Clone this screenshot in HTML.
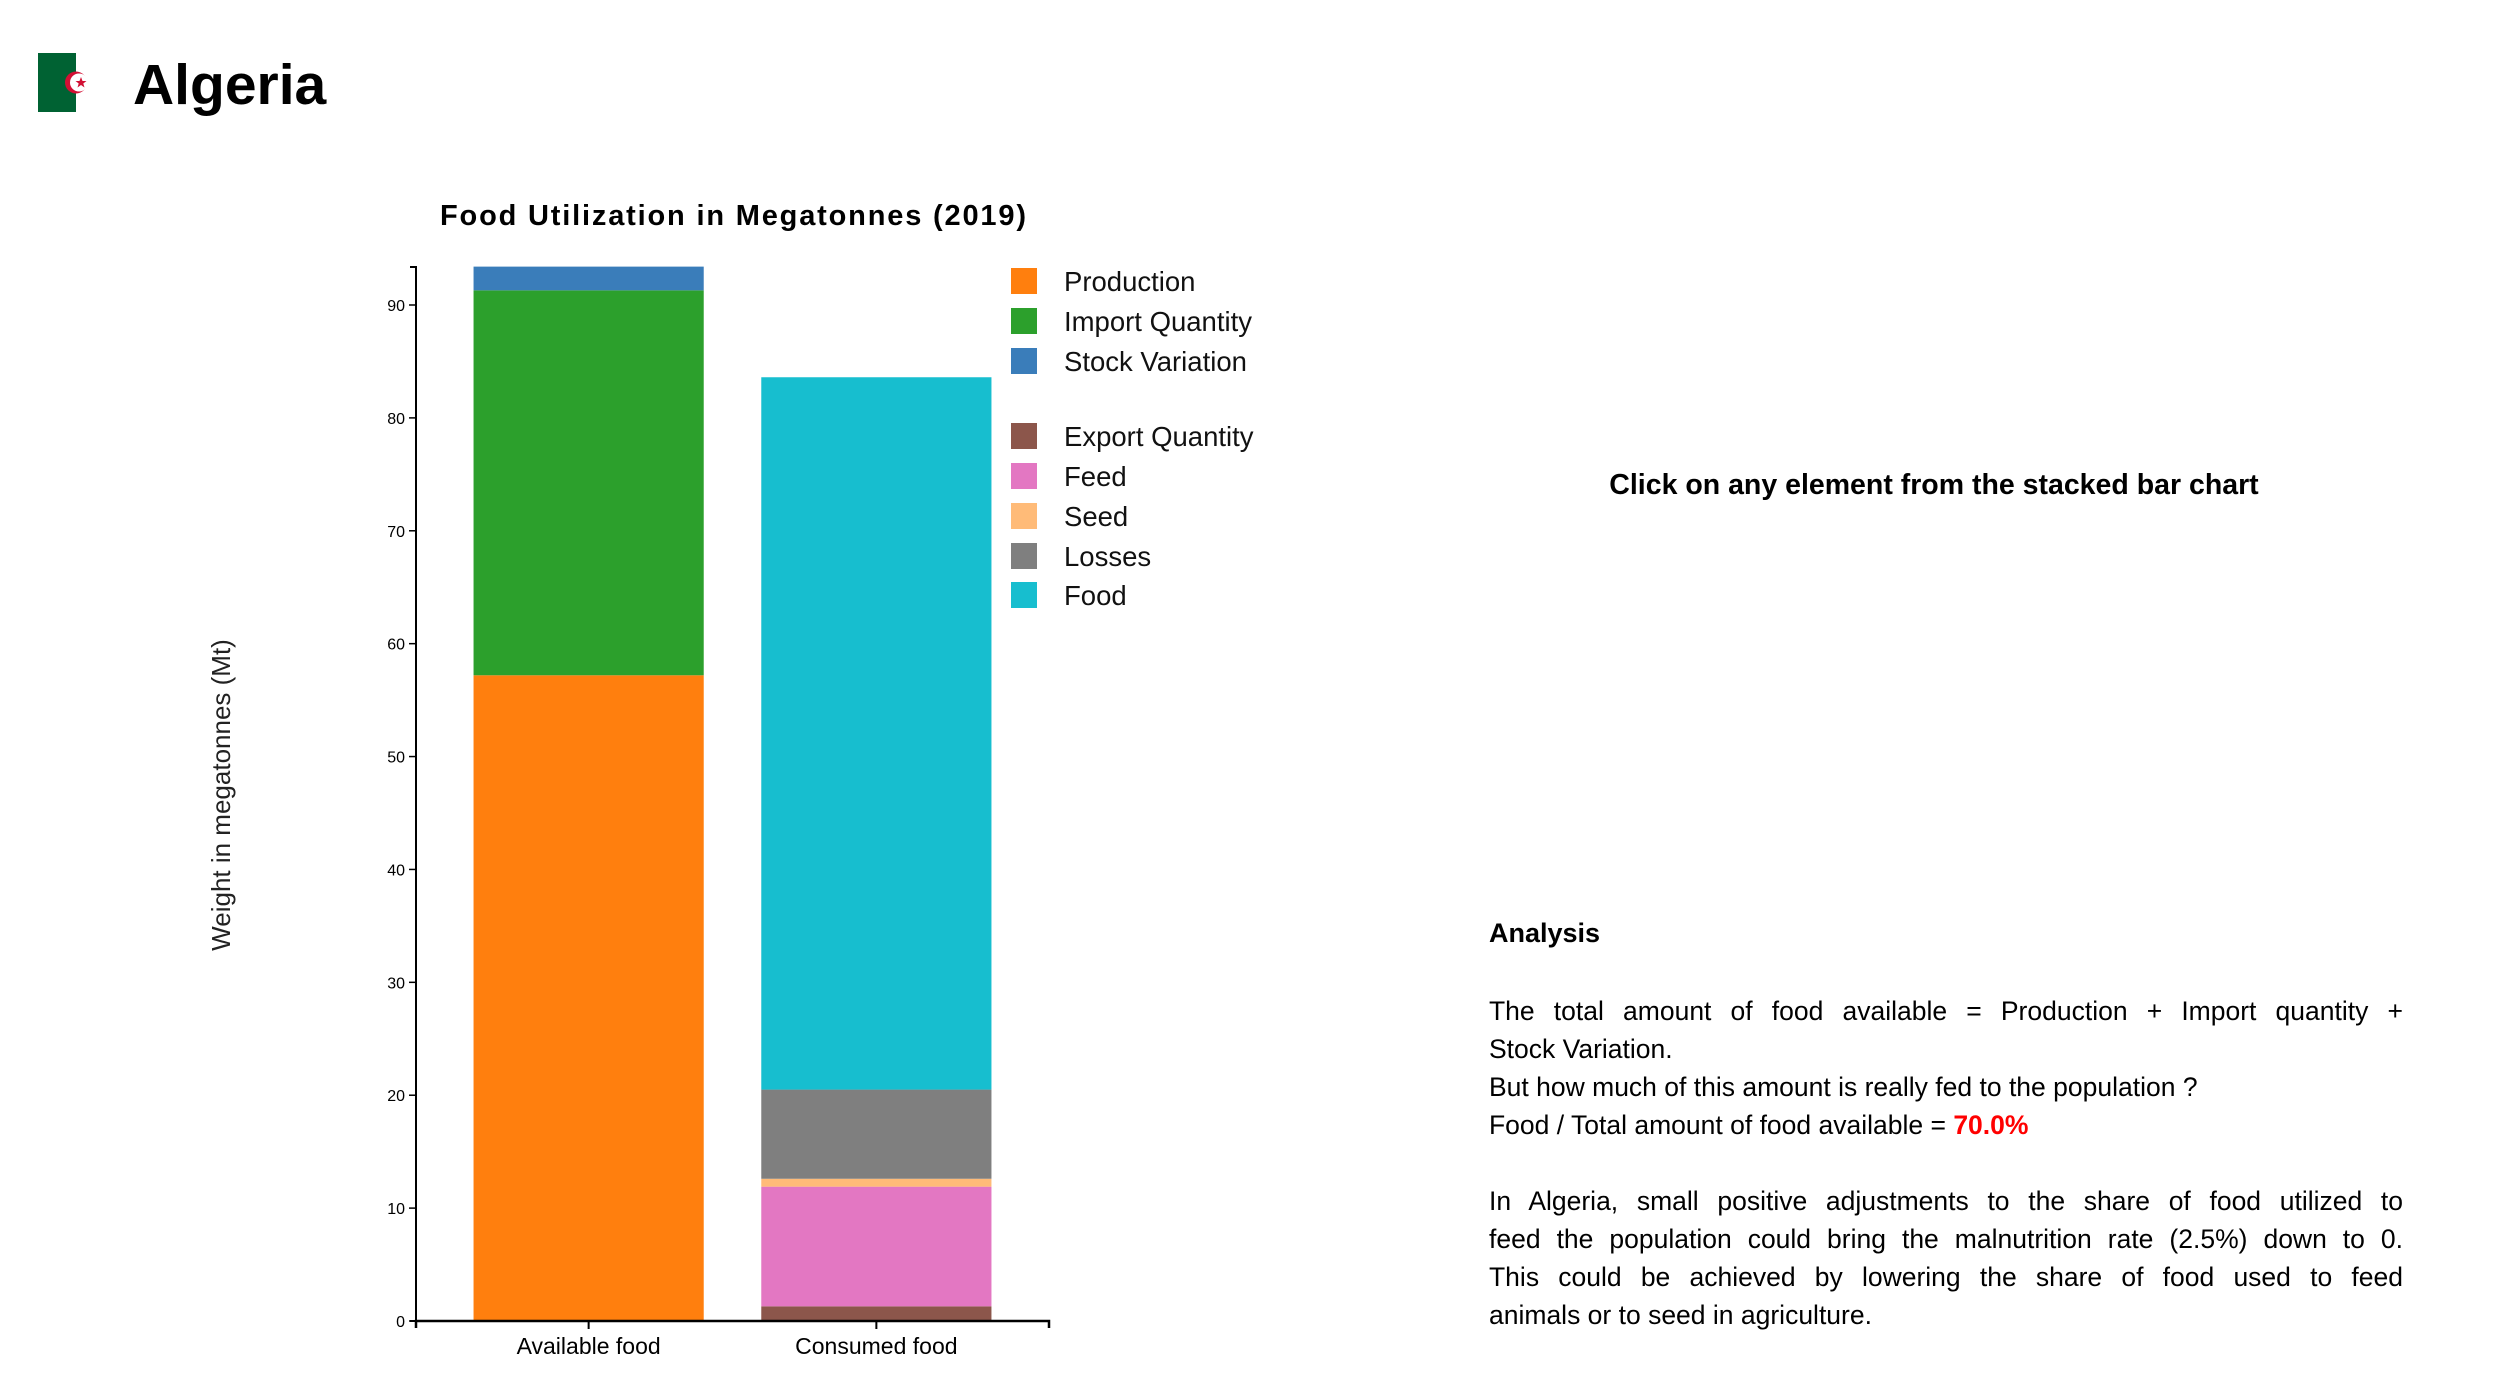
<!DOCTYPE html>
<html><head><meta charset="utf-8">
<style>
body{margin:0;width:2500px;height:1392px;background:#fff;position:relative;overflow:hidden;font-family:"Liberation Sans",sans-serif;color:#000}
.abs{position:absolute}
.line{position:absolute;left:1489px;width:914px;font-size:26.5px;white-space:nowrap;line-height:38px}
.j{text-align:justify;text-align-last:justify;white-space:normal}
</style></head><body>
<svg class="abs" style="left:38px;top:53px" width="80" height="60">
<rect x="0" y="0" width="38" height="59" fill="#006233"/>
<rect x="38" y="0" width="38" height="59" fill="#fff"/>
<circle cx="38" cy="29.5" r="11" fill="#d21034"/>
<circle cx="41" cy="29.5" r="9" fill="#fff"/>
<polygon points="43,24 44.5,28 48.5,28 45.3,30.5 46.5,34.5 43,32 39.5,34.5 40.7,30.5 37.5,28 41.5,28" fill="#d21034"/>
</svg>
<div class="abs" style="left:133px;top:52px;font-size:57px;font-weight:bold">Algeria</div>

<svg class="abs" style="left:0;top:0" width="1400" height="1392" id="chart">
<text x="733" y="225" text-anchor="middle" font-size="29" font-weight="bold" textLength="586">Food Utilization in Megatonnes (2019)</text>
<text transform="translate(230,795) rotate(-90)" text-anchor="middle" font-size="26" fill="#222">Weight in megatonnes (Mt)</text>
<g id="bars"></g><g id="axes"></g><g id="legend"></g>
</svg>

<div class="abs" style="left:1500px;width:868px;top:469px;text-align:center;font-size:28.5px;font-weight:bold">Click on any element from the stacked bar chart</div>
<div class="abs" style="left:1489px;top:918px;font-size:27px;font-weight:bold">Analysis</div>
<div>
<div class="line j" style="top:992px">The total amount of food available = Production + Import quantity +</div>
<div class="line" style="top:1030px">Stock Variation.</div>
<div class="line" style="top:1068px">But how much of this amount is really fed to the population ?</div>
<div class="line" style="top:1106px">Food / Total amount of food available = <b style="color:#ff0000">70.0%</b></div>
<div class="line j" style="top:1182px">In Algeria, small positive adjustments to the share of food utilized to</div>
<div class="line j" style="top:1220px">feed the population could bring the malnutrition rate (2.5%) down to 0.</div>
<div class="line j" style="top:1258px">This could be achieved by lowering the share of food used to feed</div>
<div class="line" style="top:1296px">animals or to seed in agriculture.</div>
</div>

<script>
const categories = ["Available food", "Consumed food"];
const availableSeries = ["Production", "Import Quantity", "Stock Variation"];
const availableValues = [57.2, 34.1, 2.1];
const consumedSeries = ["Export Quantity", "Feed", "Seed", "Losses", "Food"];
const consumedValues = [1.3, 10.6, 0.7, 7.9, 63.1];
const yTicks = [0, 10, 20, 30, 40, 50, 60, 70, 80, 90];
const yMax = 93.4;

const colors = {"Production":"#ff7f0e","Import Quantity":"#2ca02c","Stock Variation":"#3a7dba","Export Quantity":"#8c564b","Feed":"#e377c2","Seed":"#ffbb78","Losses":"#7f7f7f","Food":"#17becf"};
const NS = "http://www.w3.org/2000/svg";
const X0 = 416, X1 = 1049, Y0 = 1321, YTOP = 267;
const pxPerUnit = (Y0 - 305) / 90;
function y(v){ return Y0 - v * pxPerUnit; }
const step = (X1 - X0) / 2.2, bw = step * 0.8;
function x(i){ return X0 + step * 0.2 + i * step; }
function mk(tag, attrs, parent){ const e = document.createElementNS(NS, tag); for (const k in attrs) e.setAttribute(k, attrs[k]); parent.appendChild(e); return e; }

const bars = document.getElementById('bars');
[[availableSeries, availableValues], [consumedSeries, consumedValues]].forEach((pair, i) => {
  let acc = 0;
  pair[0].forEach((name, j) => {
    const v = pair[1][j];
    const r = mk('rect', {x: x(i), y: y(acc + v), width: bw, height: y(acc) - y(acc + v), fill: colors[name]}, bars);
    
    
    acc += v;
  });
});

const axes = document.getElementById('axes');
const ya = mk('path', {d: `M${X0-6},${YTOP}H${X0}V${Y0}H${X0-6}`, stroke: '#000', 'stroke-width': 2, fill: 'none'}, axes);


yTicks.forEach(t => {
  mk('line', {x1: X0-7, x2: X0, y1: y(t), y2: y(t), stroke: '#000', 'stroke-width': 1.5}, axes);
  const tx = mk('text', {x: X0-11, y: y(t)+6, 'text-anchor': 'end', 'font-size': 16}, axes);
  tx.textContent = t;
  
  
});
const xa = mk('path', {d: `M${X0},${Y0+7}V${Y0}H${X1}V${Y0+7}`, stroke: '#000', 'stroke-width': 2.5, fill: 'none'}, axes);


categories.forEach((c, i) => {
  const cx = x(i) + bw/2;
  mk('line', {x1: cx, x2: cx, y1: Y0, y2: Y0+8, stroke: '#000', 'stroke-width': 2}, axes);
  const tx = mk('text', {x: cx, y: Y0+33, 'text-anchor': 'middle', 'font-size': 23}, axes);
  tx.textContent = c;
  
  
});

const legend = document.getElementById('legend');
const legendRows = availableSeries.concat(consumedSeries);
const rowY = [281, 321, 361, 436, 476, 516, 556, 595];
legendRows.forEach((name, i) => {
  const g = mk('g', {}, legend);
  
  
  mk('rect', {x: 1011, y: rowY[i]-13, width: 26, height: 26, fill: colors[name]}, g);
  const t = mk('text', {x: 1064, y: rowY[i]+10, 'font-size': 27.5, fill: '#111'}, g);
  t.textContent = name;
});
</script>
</body></html>
